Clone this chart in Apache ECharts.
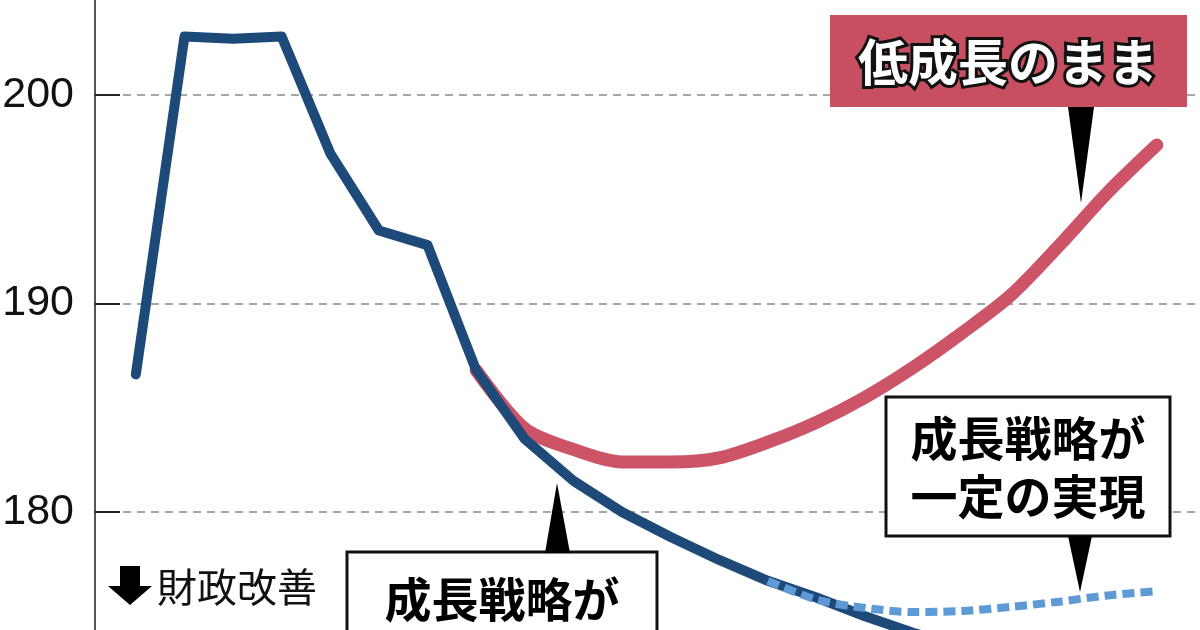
<!DOCTYPE html>
<html>
<head>
<meta charset="utf-8">
<style>
  html, body { margin: 0; padding: 0; background: #fff; }
  #chart { width: 1200px; height: 630px; }
</style>
<script src="https://cdn.jsdelivr.net/npm/echarts@6/dist/echarts.min.js"></script>
</head>
<body>
<div id="chart"></div>
<script>
// fiscal years (only the first 22 are in view)
var years = [2019, 2020, 2021, 2022, 2023, 2024, 2025, 2026, 2027, 2028, 2029,
             2030, 2031, 2032, 2033, 2034, 2035, 2036, 2037, 2038, 2039, 2040];

// debt ratio, actual + "growth strategy fully realised"
var fullGrowth = [186.6, 202.8, 202.7, 202.8, 197.2, 193.5, 192.8, 186.8, 183.5,
                  181.5, 180.0, 178.8, 177.7, 176.7, 175.9, 175.0, 174.2, 173.5];
// "low growth continues" from 2026
var lowGrowth = [186.8, 184.0, 183.0, 182.4, 182.4, 182.6, 183.35, 184.3, 185.5,
                 186.95, 188.6, 190.4, 192.8, 195.35, 197.6];
// "growth strategy partly realised" from 2032
var partGrowth = [176.7, 175.8, 175.4, 175.2, 175.25, 175.45, 175.7, 176.0, 176.2];

var yTicks = [170, 180, 190, 200, 210];

function pairs(startYear, vals) {
  var out = [];
  var s = years.indexOf(startYear);
  for (var i = 0; i < vals.length; i++) {
    out.push([years[s + i], vals[i]]);
  }
  return out;
}

var jpFont = '"Noto Sans CJK JP", "Noto Sans CJK SC", sans-serif';

var myChart = echarts.init(document.getElementById('chart'));

var option = {
  backgroundColor: '#ffffff',
  animation: false,
  grid: {
    left: 95,
    right: 0,
    top: -113.5,
    bottom: -90.5,
    containLabel: false,
    outerBoundsMode: 'none'
  },
  xAxis: {
    type: 'value',
    min: 2018.16,
    max: 2040.89,
    show: false
  },
  yAxis: {
    type: 'value',
    min: yTicks[0],
    max: yTicks[yTicks.length - 1],
    interval: 10,
    axisLine: { show: true, lineStyle: { color: '#555', width: 2 } },
    axisTick: { show: true, inside: true, length: 25, lineStyle: { color: '#222', width: 2 } },
    axisLabel: {
      margin: 21,
      fontSize: 43,
      color: '#111',
      fontFamily: '"Liberation Sans", Arial, sans-serif'
    },
    splitLine: {
      show: true,
      lineStyle: { color: '#8a8a8a', width: 1.5, type: [8, 6] }
    }
  },
  series: [
    {
      name: '低成長のまま',
      type: 'line',
      data: pairs(2026, lowGrowth),
      smooth: 0.3,
      symbol: 'none',
      lineStyle: { color: '#cd5366', width: 13, cap: 'round' },
      z: 2
    },
    {
      name: '成長戦略が十分実現',
      type: 'line',
      data: pairs(2019, fullGrowth),
      symbol: 'none',
      lineStyle: { color: '#1e4a7a', width: 10, cap: 'round', join: 'round' },
      z: 3
    },
    {
      name: '成長戦略が一定の実現',
      type: 'line',
      data: pairs(2032, partGrowth),
      smooth: 0.3,
      symbol: 'none',
      lineStyle: { color: '#5d9ad6', width: 8, type: [12, 6] },
      z: 4
    }
  ],
  graphic: [
    // low growth label
    { type: 'rect', shape: { x: 830, y: 15, width: 357, height: 92 },
      style: { fill: '#c84f60' }, z: 10 },
    { type: 'text', x: 1008, y: 62, z: 11,
      style: { text: '低成長のまま', font: 'bold 50px ' + jpFont, fill: '#fff',
               stroke: '#111', lineWidth: 6, strokeFirst: true,
               align: 'center', verticalAlign: 'middle' } },
    { type: 'polygon', shape: { points: [[1068, 107], [1094, 107], [1081, 203]] },
      style: { fill: '#000' }, z: 10 },

    // partly realised label
    { type: 'rect', shape: { x: 886, y: 397, width: 284, height: 139 },
      style: { fill: '#fff', stroke: '#111', lineWidth: 3 }, z: 10 },
    { type: 'text', x: 1028, y: 467, z: 11,
      style: { text: '成長戦略が\n一定の実現', font: 'bold 47px ' + jpFont, fill: '#000',
               lineHeight: 58, align: 'center', verticalAlign: 'middle' } },
    { type: 'polygon', shape: { points: [[1068, 536], [1092, 536], [1080, 592]] },
      style: { fill: '#000' }, z: 10 },

    // fully realised label
    { type: 'rect', shape: { x: 347, y: 552, width: 310, height: 130 },
      style: { fill: '#fff', stroke: '#111', lineWidth: 3 }, z: 10 },
    { type: 'text', x: 502, y: 628, z: 11,
      style: { text: '成長戦略が\n十分実現', font: 'bold 47px ' + jpFont, fill: '#000',
               lineHeight: 58, align: 'center', verticalAlign: 'middle' } },
    { type: 'polygon', shape: { points: [[545, 553], [570, 553], [557, 483]] },
      style: { fill: '#000' }, z: 10 },

    // fiscal improvement direction
    { type: 'polygon',
      shape: { points: [[120, 566], [140, 566], [140, 586], [152, 586], [130, 605],
                        [108, 586], [120, 586]] },
      style: { fill: '#000' }, z: 10 },
    { type: 'text', x: 157, y: 587, z: 11,
      style: { text: '財政改善', font: '40px ' + jpFont, fill: '#111',
               align: 'left', verticalAlign: 'middle' } }
  ]
};

myChart.setOption(option);
</script>
</body>
</html>
